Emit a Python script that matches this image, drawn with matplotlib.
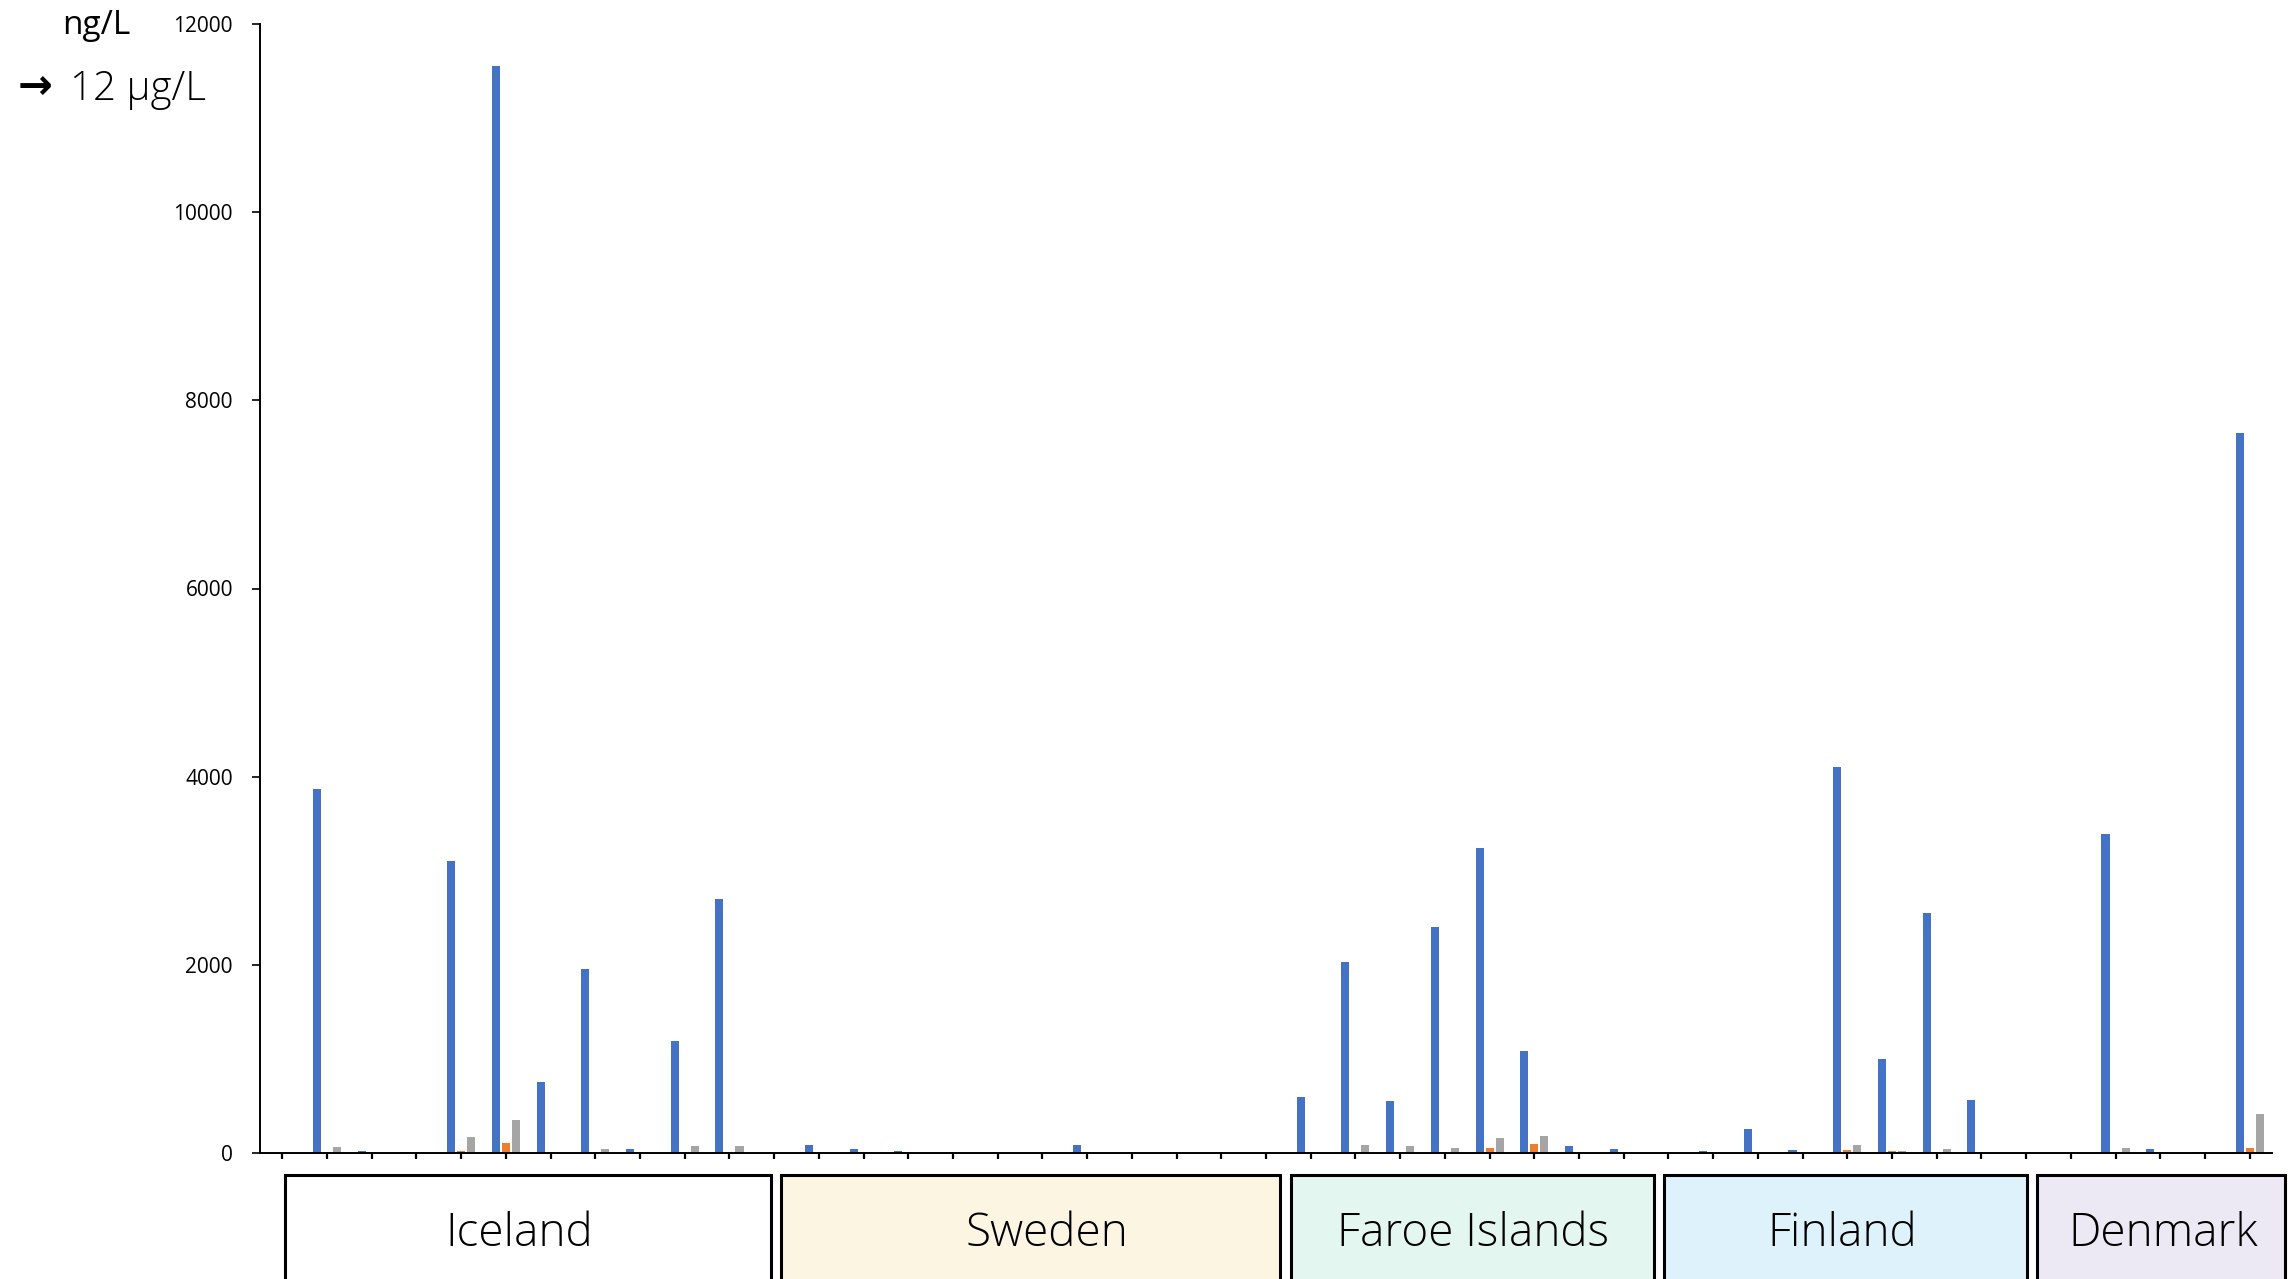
import numpy as np
import matplotlib
matplotlib.use("Agg")
import matplotlib.pyplot as plt
import matplotlib.transforms as mtransforms
from matplotlib.patches import Rectangle

plt.rcParams['font.family'] = ['Open Sans', 'DejaVu Sans']

# concentrations per sampling site (ng/L), three compounds
blue = [0, 3870, 20, 12, 3100, 11550, 750, 1960, 46, 1190, 2700,
        0, 80, 40, 20, 0, 0, 0, 85, 0, 0, 0, 0,
        590, 2030, 557, 2400, 3240, 1080, 71, 43,
        0, 25, 255, 32, 4100, 1000, 2550, 560,
        0, 0, 3390, 46, 7, 7650]
orange = [0, 0, 0, 0, 20, 106, 0, 0, 0, 0, 0,
          0, 0, 0, 0, 0, 0, 0, 0, 0, 0, 0, 0,
          0, 4, 5, 0, 57, 99, 0, 0,
          0, 0, 0, 3, 36, 18, 0, 0,
          0, 0, 0, 0, 0, 49]
gray = [0, 65, 0, 0, 170, 351, 7, 39, 0, 75, 75,
        0, 0, 0, 0, 0, 0, 0, 0, 0, 0, 0, 0,
        5, 89, 78, 57, 156, 184, 0, 0,
        0, 0, 15, 0, 80, 18, 39, 7,
        0, 0, 56, 14, 0, 415]

countries = ['Iceland', 'Sweden', 'Faroe Islands', 'Finland', 'Denmark']
box_colors = ['#FFFFFF', '#FBF5E2', '#E4F6F0', '#DDF2FA', '#ECE9F4']
# box extents along the category axis, and label nudges
box_spans = [(0.05, 10.93), (11.16, 22.31), (22.56, 30.68), (30.90, 39.03), (39.25, 44.80)]
label_shift = [-0.2, 0.36, 0.0, -0.08, 0.05]

yticks = [0, 2000, 4000, 6000, 8000, 10000, 12000]

W, H = 2291, 1279
fig = plt.figure(figsize=(W / 100, H / 100), dpi=100)
ax = fig.add_axes([260 / W, 126 / H, 2012 / W, 1129 / H])

x = np.arange(len(blue))
bw = 0.18
off = 0.224
ax.bar(x - off, blue, width=bw, color='#4472C4', linewidth=0)
ax.bar(x, orange, width=bw, color='#ED7D31', linewidth=0)
ax.bar(x + off, gray, width=bw, color='#A5A5A5', linewidth=0)

ax.set_xlim(-0.5, len(blue) - 0.5)
ax.set_ylim(0, 12000)
ax.set_yticks(yticks)
ax.set_yticklabels([str(v) for v in yticks], fontsize=15)
ax.set_xticks(x)
ax.set_xticklabels([])
ax.tick_params(axis='y', length=5.5, width=1.2, pad=14)
ax.tick_params(axis='x', length=4.5, width=1.6, direction='out')
for s in ['top', 'right']:
    ax.spines[s].set_visible(False)
for s in ['left', 'bottom']:
    ax.spines[s].set_linewidth(1.4)

fig.text(62 / W, 1 - 34 / H, 'ng/L', fontsize=24, va='baseline', ha='left')
fig.text(18 / W, 1 - 87 / H, '\u2192', fontsize=30, va='center', ha='left',
         family='DejaVu Sans', fontweight='bold')
fig.text(70 / W, 1 - 100 / H, '12 \u03bcg/L', fontsize=29, va='baseline', ha='left',
         fontweight='light')

# country boxes under the axis
trans = mtransforms.blended_transform_factory(ax.transData, fig.transFigure)
top = 1 - 1175 / H
for name, col, (a, b), dx in zip(countries, box_colors, box_spans, label_shift):
    r = Rectangle((a, -0.1), b - a, top + 0.1, transform=trans, facecolor=col,
                  edgecolor='black', linewidth=2.2, clip_on=False)
    fig.add_artist(r)
    fig.text((a + b) / 2 + dx, 1 - 1246 / H, name, transform=trans, fontsize=33,
             ha='center', va='baseline', fontweight='light')

fig.savefig('out.png', dpi=100)
